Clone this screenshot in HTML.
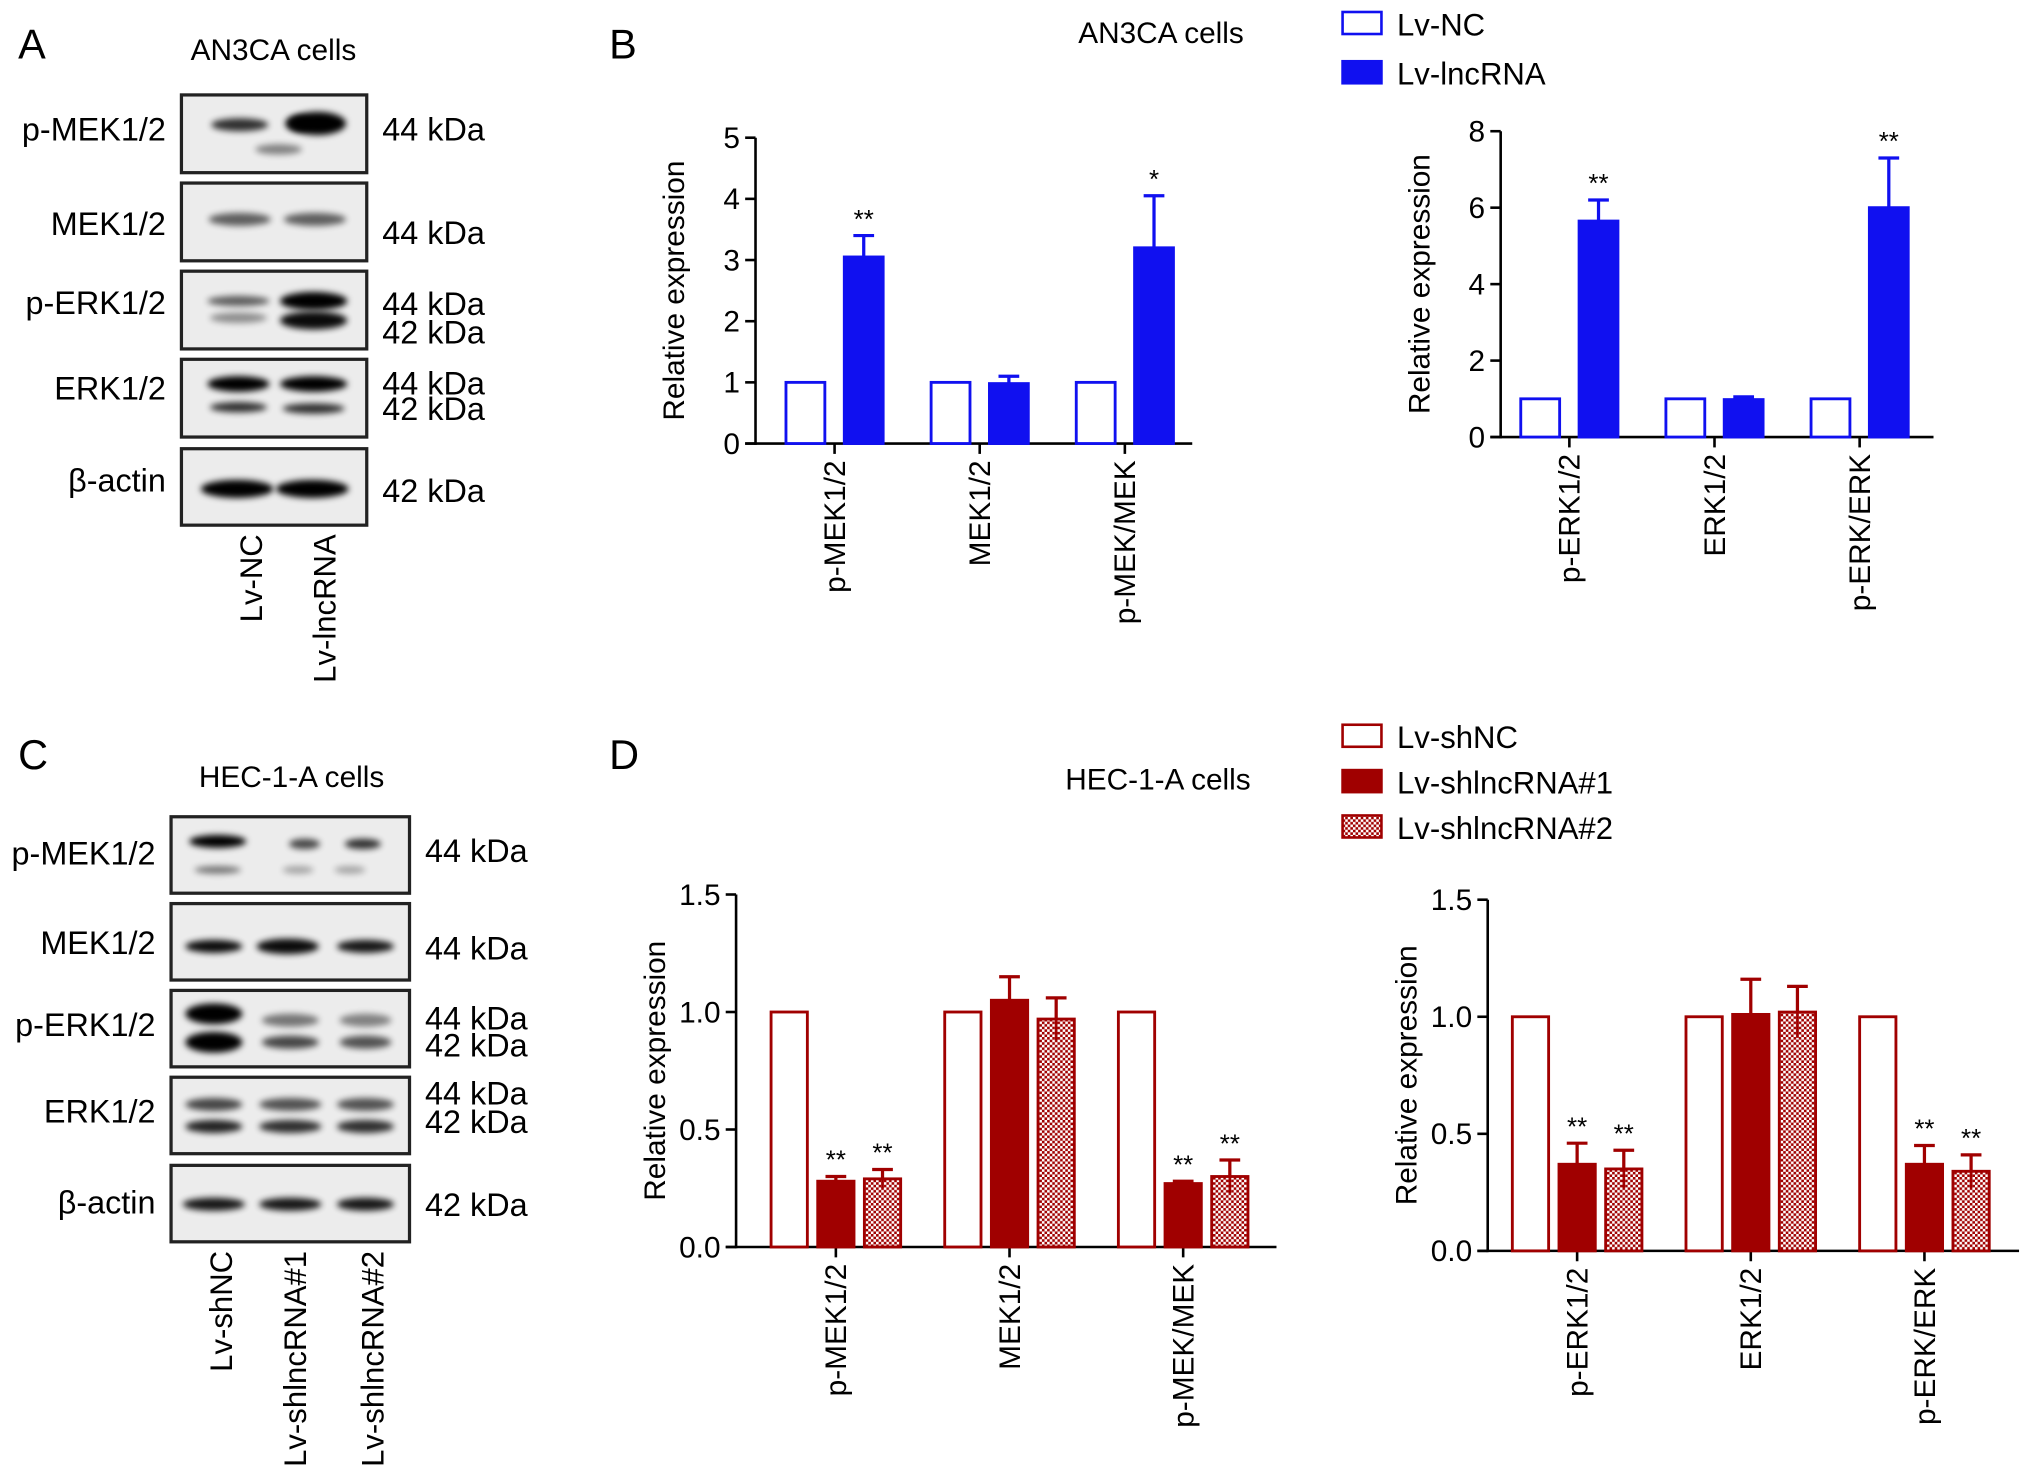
<!DOCTYPE html>
<html><head><meta charset="utf-8"><style>
html,body{margin:0;padding:0;background:#fff}
svg{display:block;font-family:"Liberation Sans",Arial,sans-serif}
</style></head><body>
<svg id="fig" width="2032" height="1478" viewBox="0 0 1568 1140" xmlns="http://www.w3.org/2000/svg">
<defs>
<filter id="blur" x="-20%" y="-100%" width="140%" height="300%"><feGaussianBlur stdDeviation="2.5"/></filter>
<pattern id="check" width="4" height="4" patternUnits="userSpaceOnUse"><rect width="4" height="4" fill="#fff"/><rect width="2" height="2" fill="#a00000"/><rect x="2" y="2" width="2" height="2" fill="#a00000"/></pattern>
</defs>
<g id="blots"></g>
<g id="charts"></g>
</svg>
<script>
// ---------- chart data ----------
const catsMEK = ["p-MEK1/2","MEK1/2","p-MEK/MEK"];
const catsERK = ["p-ERK1/2","ERK1/2","p-ERK/ERK"];
const bLeftNC = [1,1,1];
const bLeftLnc = [3.05,0.98,3.2];
const bLeftLncErr = [0.35,0.12,0.85];
const bRightNC = [1,1,1];
const bRightLnc = [5.65,0.98,6.0];
const bRightLncErr = [0.55,0.07,1.3];
const bLeftSig = ["**","","*"];
const bRightSig = ["**","","**"];
const bLeftTicks = [0,1,2,3,4,5];
const bRightTicks = [0,2,4,6,8];
const dLeftNC = [1,1,1];
const dLeftSh1 = [0.28,1.05,0.27];
const dLeftSh1Err = [0.02,0.10,0.01];
const dLeftSh2 = [0.29,0.97,0.30];
const dLeftSh2Err = [0.04,0.09,0.07];
const dRightNC = [1,1,1];
const dRightSh1 = [0.37,1.01,0.37];
const dRightSh1Err = [0.09,0.15,0.08];
const dRightSh2 = [0.35,1.02,0.34];
const dRightSh2Err = [0.08,0.11,0.07];
const dSig1 = ["**","","**"];
const dSig2 = ["**","","**"];
const dTicks = [0.0,0.5,1.0,1.5];
const dTickLabels = ["0.0","0.5","1.0","1.5"];

const NS="http://www.w3.org/2000/svg";
function mk(parent,tag,attrs,text){const e=document.createElementNS(NS,tag);for(const k in attrs)e.setAttribute(k,attrs[k]);if(text!==undefined)e.textContent=text;parent.appendChild(e);return e;}
const charts=document.getElementById('charts');
const blots=document.getElementById('blots');

function chart(o){
  const g=mk(charts,'g',{});
  
  
  const y=v=>o.y0-(v-o.min)/(o.max-o.min)*(o.y0-o.y1);
  const ya=mk(g,'line',{x1:o.ax,y1:o.y1,x2:o.ax,y2:o.y0+1,stroke:'#000','stroke-width':2});
  
  const xa=mk(g,'line',{x1:o.ax-8,y1:o.y0,x2:o.axEnd,y2:o.y0,stroke:'#000','stroke-width':2});
  
  o.ticks.forEach((t,i)=>{
    mk(g,'line',{x1:o.ax-8,y1:y(t),x2:o.ax,y2:y(t),stroke:'#000','stroke-width':2});
    const tl=mk(g,'text',{x:o.ax-12,y:y(t)+8,'text-anchor':'end','font-size':23},o.tickLabels?o.tickLabels[i]:String(t));
    
  });
  const yt=mk(g,'text',{x:0,y:0,'text-anchor':'middle','font-size':23,transform:`translate(${o.ax-55},${(o.y0+o.y1)/2}) rotate(-90)`},'Relative expression');
  
  const nS=o.series.length;
  o.cats.forEach((c,i)=>{
    const cx=o.firstCx+i*o.groupStep;
    mk(g,'line',{x1:cx,y1:o.y0,x2:cx,y2:o.y0+8,stroke:'#000','stroke-width':2});
    const cl=mk(g,'text',{x:0,y:0,'text-anchor':'end','font-size':23,transform:`translate(${cx+8},${o.y0+13}) rotate(-90)`},c);
    
    o.series.forEach((s,j)=>{
      const left=cx-(nS*o.bw+(nS-1)*o.gap)/2+j*(o.bw+o.gap);
      const v=s.vals[i];
      if(s.err){
        const e=s.err[i];
        mk(g,'line',{x1:left+o.bw/2,y1:y(v),x2:left+o.bw/2,y2:y(v+e),stroke:s.color,'stroke-width':2.5});
        mk(g,'line',{x1:left+o.bw/2-8,y1:y(v+e),x2:left+o.bw/2+8,y2:y(v+e),stroke:s.color,'stroke-width':2.5});
      }
      const r=mk(g,'rect',{x:left+1,y:y(v),width:o.bw-2,height:o.y0-y(v),fill:s.fill,stroke:s.color,'stroke-width':2.2});
      
      
      if(s.err&&s.fill==='url(#check)'){
        const e=s.err[i];
        mk(g,'line',{x1:left+o.bw/2,y1:y(v),x2:left+o.bw/2,y2:y(v-e),stroke:s.color,'stroke-width':2});
      }
      if(s.sig&&s.sig[i]){
        const e=s.err?s.err[i]:0;
        const st=mk(g,'text',{x:left+o.bw/2,y:y(v+e)-6,'text-anchor':'middle','font-size':20},s.sig[i]);
        
      }
    });
  });
}
const BLUE='#1010f0', RED='#a00000';
chart({name:'chart-b-mek',ax:583,axEnd:920,y0:342,y1:106,min:0,max:5,ticks:bLeftTicks,cats:catsMEK,firstCx:644,groupStep:112,bw:32,gap:13,
  series:[{key:'lv-nc',vals:bLeftNC,fill:'#fff',color:BLUE},{key:'lv-lncrna',vals:bLeftLnc,err:bLeftLncErr,fill:BLUE,color:BLUE,sig:bLeftSig}]});
chart({name:'chart-b-erk',ax:1158,axEnd:1492,y0:337,y1:101,min:0,max:8,ticks:bRightTicks,cats:catsERK,firstCx:1211,groupStep:112,bw:32,gap:13,
  series:[{key:'lv-nc',vals:bRightNC,fill:'#fff',color:BLUE},{key:'lv-lncrna',vals:bRightLnc,err:bRightLncErr,fill:BLUE,color:BLUE,sig:bRightSig}]});
chart({name:'chart-d-mek',ax:568,axEnd:985,y0:962,y1:690,min:0,max:1.5,ticks:dTicks,tickLabels:dTickLabels,cats:catsMEK,firstCx:645,groupStep:134,bw:30,gap:6,
  series:[{key:'lv-shnc',vals:dLeftNC,fill:'#fff',color:RED},{key:'lv-shlncrna1',vals:dLeftSh1,err:dLeftSh1Err,fill:RED,color:RED,sig:dSig1},{key:'lv-shlncrna2',vals:dLeftSh2,err:dLeftSh2Err,fill:'url(#check)',color:RED,sig:dSig2}]});
chart({name:'chart-d-erk',ax:1148,axEnd:1558,y0:965,y1:694,min:0,max:1.5,ticks:dTicks,tickLabels:dTickLabels,cats:catsERK,firstCx:1217,groupStep:134,bw:30,gap:6,
  series:[{key:'lv-shnc',vals:dRightNC,fill:'#fff',color:RED},{key:'lv-shlncrna1',vals:dRightSh1,err:dRightSh1Err,fill:RED,color:RED,sig:dSig1},{key:'lv-shlncrna2',vals:dRightSh2,err:dRightSh2Err,fill:'url(#check)',color:RED,sig:dSig2}]});

function txt(x,y,s,size,name,anchor){const t=mk(charts,'text',{x:x,y:y,'font-size':size,'text-anchor':anchor||'start'},s);return t;}
txt(14,45,'A',32,'panel-label-a');txt(470,45,'B',32,'panel-label-b');
txt(14,593,'C',32,'panel-label-c');txt(470,593,'D',32,'panel-label-d');
txt(832,33,'AN3CA cells',23,'chart-b-title');txt(822,609,'HEC-1-A cells',23,'chart-d-title');
function leg(y,fill,color,label,name){const r=mk(charts,'rect',{x:1036,y:y-9,width:30,height:17,fill:fill,stroke:color,'stroke-width':2});txt(1078,y+9,label,24,name);}
leg(18,'#fff',BLUE,'Lv-NC','legend-entry-lv-nc');leg(56,BLUE,BLUE,'Lv-lncRNA','legend-entry-lv-lncrna');
leg(568,'#fff',RED,'Lv-shNC','legend-entry-lv-shnc');leg(603,RED,RED,'Lv-shlncRNA#1','legend-entry-lv-shlncrna1');leg(638,'url(#check)',RED,'Lv-shlncRNA#2','legend-entry-lv-shlncrna2');

function blot(p){
  const g=mk(blots,'g',{});
  
  
  mk(g,'text',{x:p.titleX,y:p.titleY,'font-size':23,'text-anchor':'middle'},p.title);
  p.rows.forEach((r,i)=>{
    const y=r.y;
    mk(g,'rect',{x:p.x,y:y,width:p.w,height:r.h,fill:'#ececec',stroke:'#222','stroke-width':2.5});
    r.bands.forEach(b=>{mk(g,'ellipse',{cx:b[0],cy:y+b[1],rx:b[2],ry:b[3],fill:'#000',opacity:b[4],filter:'url(#blur)'});});
    mk(g,'text',{x:p.x-12,y:y+r.ly,'font-size':25,'text-anchor':'end'},r.label);
    r.kda.forEach(k=>mk(g,'text',{x:p.x+p.w+12,y:y+k[0],'font-size':25},k[1]));
  });
  p.lanes.forEach(l=>mk(g,'text',{x:0,y:0,'font-size':24,'text-anchor':'end',transform:`translate(${l[0]+9},${p.laneY}) rotate(-90)`},l[1]));
}
blot({name:'blot-a',x:140,w:143,title:'AN3CA cells',titleX:211,titleY:46,laneY:412,lanes:[[193,'Lv-NC'],[250,'Lv-lncRNA']],rows:[
 {y:73,h:60,label:'p-MEK1/2',ly:35,kda:[[35,'44 kDa']],bands:[[185,23,22,5,0.8],[230,22,10,6,0.9],[245,22,22,9,1],[215,42,18,4,0.45]]},
 {y:141,h:60,label:'MEK1/2',ly:40,kda:[[47,'44 kDa']],bands:[[185,28,24,5,0.6],[243,28,24,5,0.6]]},
 {y:209,h:60,label:'p-ERK1/2',ly:33,kda:[[34,'44 kDa'],[56,'42 kDa']],bands:[[184,23,24,4,0.6],[184,36,22,4,0.4],[242,23,26,7,1],[242,38,26,7,0.95]]},
 {y:277,h:60,label:'ERK1/2',ly:31,kda:[[27,'44 kDa'],[47,'42 kDa']],bands:[[184,19,24,6,1],[242,19,26,6,1],[184,37,22,4,0.8],[242,38,24,4,0.8]]},
 {y:346,h:59,label:'β-actin',ly:33,kda:[[41,'42 kDa']],bands:[[183,31,28,7,1],[241,31,28,7,1]]}]});
blot({name:'blot-c',x:132,w:184,title:'HEC-1-A cells',titleX:225,titleY:607,laneY:965,lanes:[[170,'Lv-shNC'],[227,'Lv-shlncRNA#1'],[287,'Lv-shlncRNA#2']],rows:[
 {y:630,h:59,label:'p-MEK1/2',ly:37,kda:[[35,'44 kDa']],bands:[[168,19,22,5,1],[168,41,18,3,0.5],[235,21,12,4,0.7],[280,21,14,4,0.8],[230,41,12,3,0.3],[270,41,12,3,0.3]]},
 {y:697,h:59,label:'MEK1/2',ly:39,kda:[[43,'44 kDa']],bands:[[165,33,22,5,0.95],[222,33,24,6,0.95],[282,33,22,5,0.9]]},
 {y:764,h:59,label:'p-ERK1/2',ly:35,kda:[[30,'44 kDa'],[51,'42 kDa']],bands:[[165,18,22,8,1],[165,40,22,8,1],[224,23,22,5,0.5],[224,40,22,5,0.7],[282,23,20,5,0.45],[282,40,20,5,0.65]]},
 {y:831,h:59,label:'ERK1/2',ly:35,kda:[[21,'44 kDa'],[43,'42 kDa']],bands:[[165,21,22,5,0.7],[224,21,24,5,0.65],[282,21,22,5,0.65],[165,38,22,5,0.85],[224,38,24,5,0.8],[282,38,22,5,0.8]]},
 {y:899,h:59,label:'β-actin',ly:37,kda:[[39,'42 kDa']],bands:[[165,30,24,5,0.9],[224,30,24,5,0.9],[282,30,22,5,0.9]]}]});
</script>
</body></html>
